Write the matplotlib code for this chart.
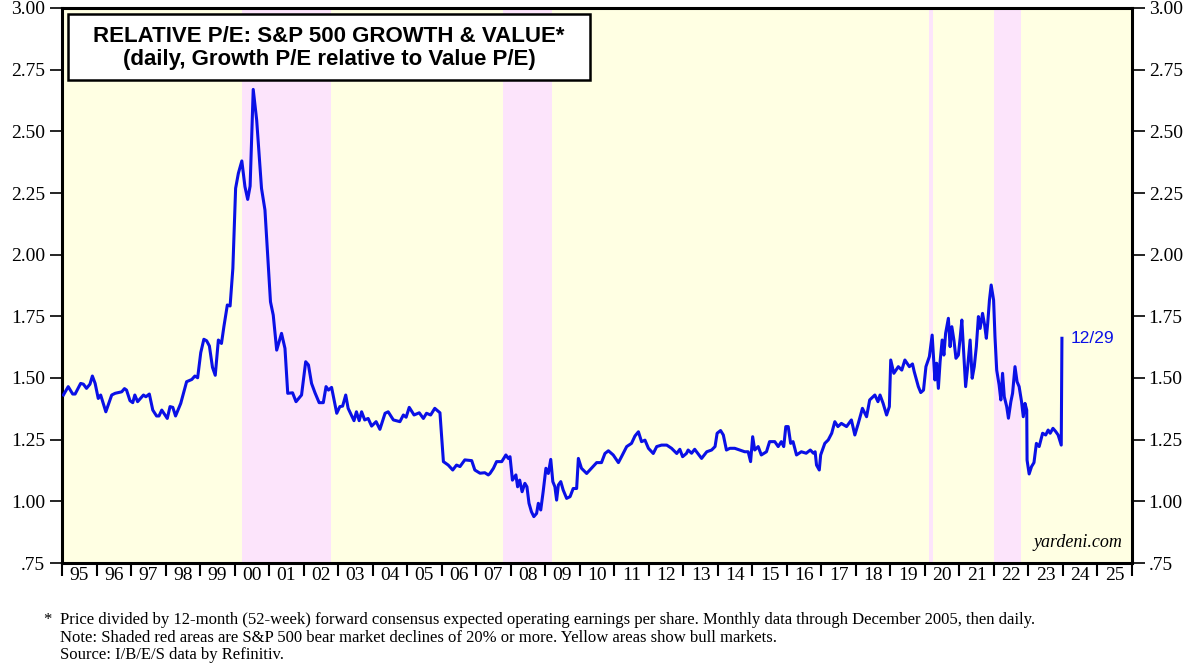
import matplotlib
matplotlib.use('Agg')
import matplotlib.pyplot as plt
from matplotlib.patches import Rectangle

# monthly data 1995-2005
years_9505 = [
    1995.04, 1995.18, 1995.31, 1995.38, 1995.54, 1995.62, 1995.71, 1995.81, 1995.88, 1995.96,
    1996.05, 1996.12, 1996.27, 1996.44, 1996.54, 1996.73, 1996.81, 1996.87, 1996.97,
    1997.05, 1997.11, 1997.19, 1997.36, 1997.43, 1997.53, 1997.63, 1997.74, 1997.81, 1997.89,
    1998.05, 1998.13, 1998.21, 1998.29, 1998.44, 1998.61, 1998.76, 1998.85, 1998.93,
    1999.02, 1999.11, 1999.19, 1999.27, 1999.36, 1999.44, 1999.53, 1999.62, 1999.69, 1999.79,
    1999.87, 1999.95, 2000.03, 2000.11, 2000.21, 2000.30, 2000.38, 2000.45, 2000.54, 2000.64,
    2000.78, 2000.88, 2001.04, 2001.12, 2001.22, 2001.36, 2001.46, 2001.54, 2001.68, 2001.78,
    2001.94, 2002.06, 2002.14, 2002.23, 2002.33, 2002.45, 2002.57, 2002.65, 2002.72, 2002.81,
    2002.96, 2003.05, 2003.13, 2003.22, 2003.29, 2003.46, 2003.53, 2003.61, 2003.68, 2003.77,
    2003.87, 2003.97, 2004.10, 2004.21, 2004.36, 2004.45, 2004.60, 2004.79, 2004.89, 2004.97,
    2005.06, 2005.20, 2005.35, 2005.47, 2005.56, 2005.68, 2005.80, 2005.95,
]
pe_9505 = [
    1.431, 1.465, 1.435, 1.435, 1.478, 1.475, 1.458, 1.475, 1.508, 1.478,
    1.417, 1.431, 1.363, 1.431, 1.438, 1.444, 1.457, 1.451, 1.408,
    1.400, 1.431, 1.404, 1.431, 1.424, 1.435, 1.370, 1.346, 1.346, 1.370,
    1.336, 1.384, 1.381, 1.346, 1.397, 1.485, 1.494, 1.508, 1.501,
    1.603, 1.657, 1.651, 1.630, 1.543, 1.511, 1.654, 1.640, 1.708, 1.796,
    1.792, 1.944, 2.269, 2.330, 2.380, 2.276, 2.224, 2.278, 2.670, 2.546,
    2.269, 2.181, 1.809, 1.755, 1.613, 1.681, 1.620, 1.438, 1.440, 1.404,
    1.431, 1.566, 1.553, 1.478, 1.440, 1.400, 1.400, 1.465, 1.451, 1.462,
    1.357, 1.384, 1.386, 1.431, 1.377, 1.327, 1.363, 1.327, 1.363, 1.330,
    1.336, 1.305, 1.323, 1.292, 1.357, 1.363, 1.330, 1.323, 1.350, 1.341,
    1.381, 1.350, 1.359, 1.336, 1.357, 1.350, 1.377, 1.359,
]

# daily data 2006-2016 (read at a coarser step)
years_0616 = [
    2006.05, 2006.19, 2006.32, 2006.43, 2006.53, 2006.67, 2006.87, 2006.96,
    2007.11, 2007.25, 2007.35, 2007.40, 2007.50, 2007.59, 2007.74, 2007.86, 2007.93, 2007.98,
    2008.05, 2008.15, 2008.20, 2008.26, 2008.33, 2008.41, 2008.47, 2008.53, 2008.60, 2008.67,
    2008.75, 2008.80, 2008.87, 2008.94, 2009.02, 2009.09, 2009.16, 2009.22, 2009.28, 2009.33,
    2009.38, 2009.45, 2009.52, 2009.62, 2009.72, 2009.81, 2009.91, 2009.96,
    2010.05, 2010.20, 2010.34, 2010.49, 2010.63, 2010.73, 2010.83, 2010.97,
    2011.12, 2011.21, 2011.36, 2011.50, 2011.60, 2011.70, 2011.79, 2011.89, 2011.99,
    2012.13, 2012.23, 2012.37, 2012.52, 2012.66, 2012.81, 2012.90, 2012.98,
    2013.09, 2013.14, 2013.24, 2013.33, 2013.53, 2013.68, 2013.82, 2013.92, 2013.98,
    2014.08, 2014.16, 2014.25, 2014.35, 2014.49, 2014.64, 2014.78, 2014.88, 2014.95,
    2015.01, 2015.07, 2015.17, 2015.26, 2015.41, 2015.50, 2015.65, 2015.75, 2015.84, 2015.91,
    2015.97, 2016.04, 2016.11, 2016.18, 2016.28, 2016.42, 2016.56, 2016.68, 2016.77, 2016.82,
    2016.86, 2016.94, 2016.98,
]
pe_0616 = [
    1.161, 1.147, 1.127, 1.147, 1.141, 1.168, 1.165, 1.127,
    1.114, 1.116, 1.107, 1.113, 1.134, 1.161, 1.161, 1.188, 1.174, 1.181,
    1.086, 1.107, 1.059, 1.086, 1.039, 1.073, 1.059, 0.992, 0.958, 0.938,
    0.951, 0.992, 0.965, 1.039, 1.134, 1.113, 1.170, 1.080, 1.059, 1.005,
    1.066, 1.080, 1.046, 1.012, 1.019, 1.052, 1.052, 1.174,
    1.134, 1.113, 1.134, 1.157, 1.157, 1.194, 1.205, 1.188,
    1.157, 1.181, 1.222, 1.235, 1.265, 1.282, 1.242, 1.248, 1.215,
    1.194, 1.222, 1.228, 1.228, 1.215, 1.194, 1.211, 1.181,
    1.194, 1.208, 1.195, 1.211, 1.174, 1.201, 1.208, 1.222, 1.276,
    1.287, 1.269, 1.208, 1.215, 1.215, 1.208, 1.201, 1.201, 1.161,
    1.262, 1.208, 1.222, 1.188, 1.201, 1.242, 1.242, 1.222, 1.242, 1.222,
    1.303, 1.303, 1.235, 1.242, 1.188, 1.201, 1.195, 1.208, 1.195, 1.201,
    1.147, 1.127, 1.188,
]

# daily data 2017-2023
years_1723 = [
    2017.10, 2017.20, 2017.30, 2017.39, 2017.48, 2017.58, 2017.73, 2017.87, 2017.97,
    2018.07, 2018.19, 2018.31, 2018.40, 2018.55, 2018.64, 2018.70, 2018.79, 2018.89, 2018.97,
    2019.01, 2019.10, 2019.23, 2019.33, 2019.42, 2019.55, 2019.64, 2019.69, 2019.81, 2019.88,
    2019.96, 2020.03, 2020.13, 2020.21, 2020.29, 2020.34, 2020.39, 2020.44, 2020.50, 2020.55,
    2020.60, 2020.68, 2020.73, 2020.78, 2020.84, 2020.90, 2020.97, 2021.02, 2021.07, 2021.12,
    2021.18, 2021.24, 2021.31, 2021.37, 2021.43, 2021.49, 2021.55, 2021.60, 2021.67, 2021.73,
    2021.78, 2021.82, 2021.87, 2021.92, 2021.99, 2022.03, 2022.08, 2022.15, 2022.20, 2022.25,
    2022.30, 2022.37, 2022.42, 2022.49, 2022.54, 2022.61, 2022.67, 2022.73, 2022.80, 2022.85,
    2022.90, 2022.95, 2022.96, 2023.02, 2023.09, 2023.16, 2023.23, 2023.31, 2023.41, 2023.50,
    2023.57, 2023.63, 2023.71, 2023.79, 2023.86, 2023.92, 2023.95, 2023.97,
]
pe_1723 = [
    1.235, 1.249, 1.276, 1.323, 1.303, 1.316, 1.303, 1.330, 1.269,
    1.316, 1.377, 1.343, 1.411, 1.431, 1.404, 1.431, 1.397, 1.350, 1.384,
    1.573, 1.519, 1.546, 1.532, 1.573, 1.546, 1.557, 1.526, 1.465, 1.441,
    1.451, 1.546, 1.587, 1.674, 1.492, 1.560, 1.458, 1.566, 1.654, 1.593,
    1.681, 1.742, 1.627, 1.708, 1.654, 1.580, 1.593, 1.661, 1.735, 1.614,
    1.465, 1.546, 1.654, 1.499, 1.546, 1.627, 1.749, 1.701, 1.762, 1.715,
    1.661, 1.722, 1.816, 1.877, 1.816, 1.668, 1.532, 1.472, 1.411, 1.519,
    1.424, 1.384, 1.337, 1.404, 1.438, 1.546, 1.485, 1.465, 1.404, 1.343,
    1.397, 1.370, 1.167, 1.111, 1.141, 1.157, 1.235, 1.222, 1.276, 1.269,
    1.289, 1.276, 1.296, 1.283, 1.269, 1.242, 1.228, 1.661,
]

# bear markets (S&P 500 declines of 20% or more)
bear_start = [2000.21, 2007.77, 2020.13, 2022.01]
bear_end = [2002.78, 2009.19, 2020.23, 2022.78]

year_labels = ['%02d' % (y % 100) for y in range(1995, 2026)]
y_ticks = [0.75, 1.00, 1.25, 1.50, 1.75, 2.00, 2.25, 2.50, 2.75, 3.00]

BLUE = '#0a10e6'
YELLOW = '#ffffe3'
PINK = '#fce4fb'
SERIF = 'Liberation Serif'
SANS = 'Liberation Sans'

fig = plt.figure(figsize=(12, 6.72), dpi=100)
ax = fig.add_axes([62 / 1200, 1 - 563 / 672, 1070 / 1200, 555 / 672])
ax.set_facecolor(YELLOW)

for s, e in zip(bear_start, bear_end):
    ax.axvspan(s, e, color=PINK, lw=0, zorder=1)

ax.plot(years_9505 + years_0616 + years_1723, pe_9505 + pe_0616 + pe_1723,
        color=BLUE, lw=2.2, zorder=3)

ax.set_xlim(1995, 2026)
ax.set_ylim(0.75, 3.00)

# year boundaries as tick marks, labels centred in between
ax.set_xticks(range(1995, 2027))
ax.set_xticklabels([])
ax.set_xticks([y + 0.5 for y in range(1995, 2026)], minor=True)
ax.set_xticklabels(year_labels, minor=True, fontfamily=SERIF, fontsize=14)
ax.tick_params(axis='x', which='major', direction='out', length=9, width=1.5)
ax.tick_params(axis='x', which='minor', length=0, pad=3)

ylabs = ['.75' if v == 0.75 else '%.2f' % v for v in y_ticks]
ax.set_yticks(y_ticks)
ax.set_yticklabels(ylabs, fontfamily=SERIF, fontsize=14)
ax.tick_params(axis='y', which='both', direction='out', length=9, width=1.2,
               left=True, right=True, labelleft=True, labelright=True, pad=3)
for lab in ax.get_yticklabels():
    lab.set_fontfamily(SERIF)

for sp in ax.spines.values():
    sp.set_linewidth(2.2)

# title box
box = Rectangle((68 / 1200, 1 - 80 / 672), 522 / 1200, 66 / 672, transform=fig.transFigure,
                facecolor='white', edgecolor='black', lw=1.8, zorder=5)
fig.patches.append(box)
fig.text(329 / 1200, 1 - 36 / 672, 'RELATIVE P/E: S&P 500 GROWTH & VALUE*', ha='center', va='center',
         fontfamily=SANS, fontweight='bold', fontsize=16, zorder=6)
fig.text(329 / 1200, 1 - 60 / 672, '(daily, Growth P/E relative to Value P/E)', ha='center', va='center',
         fontfamily=SANS, fontweight='bold', fontsize=16, zorder=6)

ax.annotate('12/29', xy=(years_1723[-1], pe_1723[-1]), xytext=(6, 0), textcoords='offset points',
            ha='left', va='center', color=BLUE, fontfamily=SANS, fontsize=12.5)

ax.text(0.991, 0.022, 'yardeni.com', transform=ax.transAxes, ha='right', va='bottom',
        fontfamily=SERIF, style='italic', fontsize=13, zorder=4)

# footnotes
fig.text(43 / 1200, 1 - 620 / 672, '*', fontfamily=SERIF, fontsize=12, va='center')
notes = [
    'Price divided by 12-month (52-week) forward consensus expected operating earnings per share. '
    'Monthly data through December 2005, then daily.',
    'Note: Shaded red areas are S&P 500 bear market declines of 20% or more. Yellow areas show bull markets.',
    'Source: I/B/E/S data by Refinitiv.',
]
for i, line in enumerate(notes):
    fig.text(60 / 1200, 1 - (620 + 17.5 * i) / 672, line, fontfamily=SERIF, fontsize=12, va='center')

fig.savefig('out.png', dpi=100)
plt.close(fig)
